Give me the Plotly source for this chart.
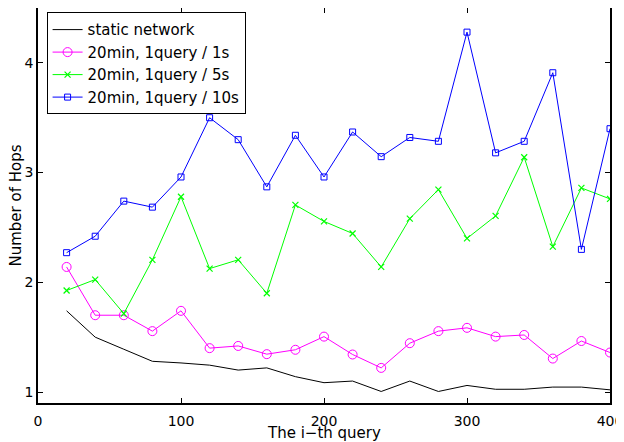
import plotly.graph_objects as go

queries = [20, 40, 60, 80, 100, 120, 140, 160, 180, 200, 220, 240, 260, 280, 300, 320, 340, 360, 380, 400]
static_network = [1.74, 1.50, 1.39, 1.28, 1.265, 1.245, 1.20, 1.22, 1.14, 1.085, 1.10, 1.005, 1.10, 1.005, 1.06, 1.025, 1.025, 1.045, 1.045, 1.02]
q_1s = [2.14, 1.70, 1.70, 1.555, 1.74, 1.40, 1.42, 1.345, 1.385, 1.505, 1.342, 1.22, 1.445, 1.555, 1.585, 1.505, 1.52, 1.305, 1.465, 1.36]
q_5s = [1.925, 2.025, 1.715, 2.205, 2.78, 2.125, 2.205, 1.90, 2.705, 2.555, 2.445, 2.14, 2.58, 2.845, 2.40, 2.605, 3.14, 2.325, 2.86, 2.76]
q_10s = [2.27, 2.42, 2.74, 2.685, 2.96, 3.50, 3.30, 2.87, 3.34, 2.96, 3.37, 3.145, 3.32, 3.285, 4.28, 3.18, 3.285, 3.91, 2.30, 3.40]
names = ["static network", "20min, 1query / 1s", "20min, 1query / 5s", "20min, 1query / 10s"]
x_ticks = [0, 100, 200, 300, 400]
y_ticks = [1, 2, 3, 4]
x_title = "The i\u2212th query"
y_title = "Number of Hops"

FONT = "DejaVu Sans, Liberation Sans, Arial, sans-serif"

fig = go.Figure()
fig.add_trace(go.Scatter(x=queries, y=static_network, mode="lines", name=names[0],
                         line=dict(color="black", width=1)))
fig.add_trace(go.Scatter(x=queries, y=q_1s, mode="lines+markers", name=names[1],
                         line=dict(color="#ff00ff", width=1),
                         marker=dict(symbol="circle-open", size=9, color="#ff00ff", line=dict(width=1))))
fig.add_trace(go.Scatter(x=queries, y=q_5s, mode="lines+markers", name=names[2],
                         line=dict(color="#00ff00", width=1),
                         marker=dict(symbol="x-thin-open", size=6, color="#00ff00", line=dict(width=1.2, color="#00ff00"))))
fig.add_trace(go.Scatter(x=queries, y=q_10s, mode="lines+markers", name=names[3],
                         line=dict(color="#0000ff", width=1),
                         marker=dict(symbol="square-open", size=6, color="#0000ff", line=dict(width=1))))

axis_common = dict(showgrid=False, zeroline=False, showline=True, linecolor="black", linewidth=1.5,
                   mirror="ticks", ticks="inside", ticklen=5, tickcolor="black", automargin=False,
                   ticklabeloverflow="allow",
                   tickfont=dict(size=14, color="black", family=FONT))
# page body adds an 8px margin, so the figure is sized to fit the 624x442 window
fig.update_layout(
    width=616, height=434,
    margin=dict(l=30, r=14, t=0, b=39),
    paper_bgcolor="white", plot_bgcolor="white",
    font=dict(family=FONT, color="black", size=15),
    xaxis=dict(range=[0, 400], tickvals=x_ticks, ticklabelstandoff=4, **axis_common),
    yaxis=dict(range=[0.9, 4.5], tickvals=y_ticks, **axis_common),
    legend=dict(x=0.015, y=0.989, xanchor="left", yanchor="top", bgcolor="white",
                bordercolor="black", borderwidth=1, font=dict(size=15, family=FONT), tracegroupgap=0,
                itemwidth=30),
    showlegend=True,
    annotations=[
        dict(text=x_title, x=0.5, y=0, xref="paper", yref="paper", xanchor="center", yanchor="top",
             yshift=-19, showarrow=False, font=dict(size=15, family=FONT)),
        dict(text=y_title, x=0, y=0.5, xref="paper", yref="paper", xanchor="center", yanchor="middle",
             xshift=-23, textangle=-90, showarrow=False, font=dict(size=15, family=FONT)),
    ],
)
fig.write_html("out.html")
